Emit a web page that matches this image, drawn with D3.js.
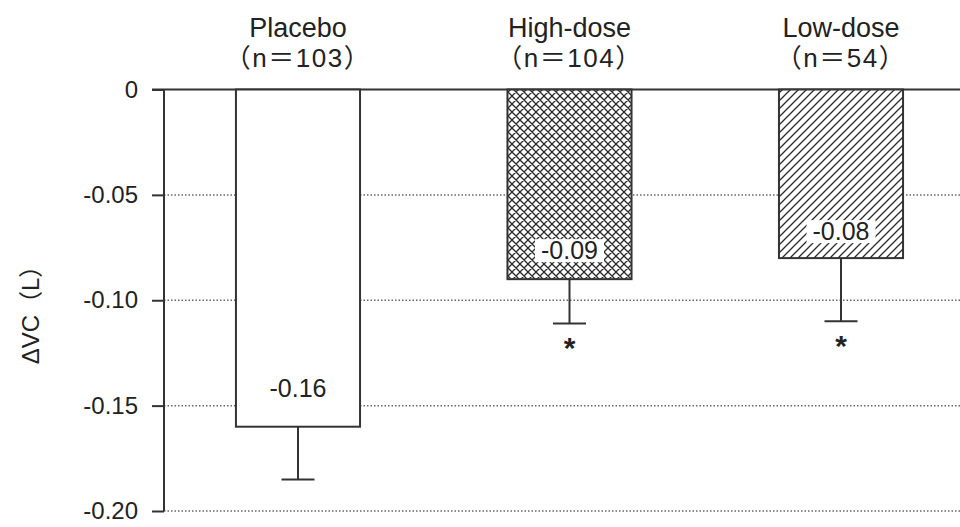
<!DOCTYPE html>
<html>
<head>
<meta charset="utf-8">
<script src="https://cdn.jsdelivr.net/npm/d3@7"></script>
<style>
  html, body { margin: 0; padding: 0; background: #fff; }
  svg { display: block; font-family: "Liberation Sans", Arial, "Noto Sans CJK JP", sans-serif; }
</style>
</head>
<body>
<svg id="chart" width="960" height="527"></svg>
<script>
// Change in vital capacity by treatment group
const groups = ["Placebo", "High-dose", "Low-dose"];
const groupN = ["（n＝103）", "（n＝104）", "（n＝54）"];
const meanChange = [-0.16, -0.09, -0.08];
const stdError = [0.025, 0.021, 0.030];
const significant = [false, true, true];
const yTicks = [0, -0.05, -0.10, -0.15, -0.20];
const yTickLabels = ["0", "-0.05", "-0.10", "-0.15", "-0.20"];
const yTitle = "ΔVC（L）";

const svg = d3.select("#chart");
const ink = "#222";
const lineCol = "#333";

const x = d3.scaleBand()
  .domain(groups)
  .range([164, 975])
  .paddingInner(0.543)
  .paddingOuter(0.265);

const y = d3.scaleLinear()
  .domain([0, -0.2])
  .range([89.5, 511]);

// hatch fills
const defs = svg.append("defs");
const cross = defs.append("pattern")
  .attr("id", "hatch-cross")
  .attr("patternUnits", "userSpaceOnUse")
  .attr("width", 8).attr("height", 8);
cross.append("rect").attr("width", 8).attr("height", 8).attr("fill", "#fff");
cross.append("path")
  .attr("d", "M0,8L8,0M-2,2L2,-2M6,10L10,6M0,0L8,8M-2,6L2,10M6,-2L10,2")
  .attr("stroke", "#2a2a2a").attr("stroke-width", 1.3);

const diag = defs.append("pattern")
  .attr("id", "hatch-diag")
  .attr("patternUnits", "userSpaceOnUse")
  .attr("width", 8).attr("height", 8);
diag.append("rect").attr("width", 8).attr("height", 8).attr("fill", "#fff");
diag.append("path")
  .attr("d", "M0,8L8,0M-2,2L2,-2M6,10L10,6")
  .attr("stroke", "#2a2a2a").attr("stroke-width", 1.3);

const fills = ["#fff", "url(#hatch-cross)", "url(#hatch-diag)"];

// dotted gridlines
const plotRight = 960;
svg.append("g").selectAll("line")
  .data(yTicks.filter(d => d !== 0))
  .join("line")
  .attr("x1", 164).attr("x2", plotRight)
  .attr("y1", d => y(d)).attr("y2", d => y(d))
  .attr("stroke", "#666")
  .attr("stroke-width", 1.5)
  .attr("stroke-dasharray", "1.5,2");

// y axis
const yAxis = d3.axisLeft(y)
  .tickValues(yTicks)
  .tickFormat((d, i) => yTickLabels[i])
  .tickSize(12)
  .tickPadding(14);
const gy = svg.append("g")
  .attr("transform", "translate(164,0)")
  .call(yAxis);
gy.select(".domain").attr("stroke", lineCol).attr("stroke-width", 2).attr("d", `M0,${y(0)}V${y(-0.2)}`);
gy.selectAll(".tick line").attr("stroke", lineCol).attr("stroke-width", 2);
gy.selectAll(".tick text")
  .attr("fill", ink)
  .attr("font-size", 24)
  .attr("font-family", "'Liberation Sans', Arial, sans-serif");

// baseline at zero
svg.append("line")
  .attr("x1", 152).attr("x2", plotRight)
  .attr("y1", y(0)).attr("y2", y(0))
  .attr("stroke", lineCol).attr("stroke-width", 2);

// y title
svg.append("text")
  .attr("transform", `translate(39,309) rotate(-90)`)
  .attr("text-anchor", "middle")
  .attr("font-size", 24)
  .attr("fill", ink)
  .text(yTitle);

// error bars
const errG = svg.append("g");
groups.forEach((g, i) => {
  const cx = x(g) + x.bandwidth() / 2;
  const lo = meanChange[i] - stdError[i];
  errG.append("line")
    .attr("x1", cx).attr("x2", cx)
    .attr("y1", y(meanChange[i])).attr("y2", y(lo))
    .attr("stroke", lineCol).attr("stroke-width", 2);
  errG.append("line")
    .attr("x1", cx - 16.5).attr("x2", cx + 16.5)
    .attr("y1", y(lo)).attr("y2", y(lo))
    .attr("stroke", lineCol).attr("stroke-width", 2);
});

// bars
svg.append("g").selectAll("rect")
  .data(groups)
  .join("rect")
  .attr("x", d => x(d))
  .attr("width", x.bandwidth())
  .attr("y", y(0))
  .attr("height", (d, i) => y(meanChange[i]) - y(0))
  .attr("fill", (d, i) => fills[i])
  .attr("stroke", lineCol)
  .attr("stroke-width", 2);

// value labels on white boxes
const fmt = d3.format(".2f");
const labelLift = [30, 20, 18];
const labG = svg.append("g");
groups.forEach((g, i) => {
  const cx = x(g) + x.bandwidth() / 2;
  const base = y(meanChange[i]) - labelLift[i];
  const t = labG.append("text")
    .attr("x", cx).attr("y", base)
    .attr("text-anchor", "middle")
    .attr("font-size", 25)
    .attr("fill", ink)
    .text(fmt(meanChange[i]).replace("−", "-"));
  const bb = t.node().getBBox();
  labG.insert("rect", () => t.node())
    .attr("x", bb.x - 6).attr("y", base - 20)
    .attr("width", bb.width + 12).attr("height", 23)
    .attr("fill", "#fff");
});

// significance markers
groups.forEach((g, i) => {
  if (!significant[i]) return;
  const cx = x(g) + x.bandwidth() / 2;
  svg.append("text")
    .attr("x", cx).attr("y", y(meanChange[i] - stdError[i]) + 35)
    .attr("text-anchor", "middle")
    .attr("font-size", 30)
    .attr("font-weight", "bold")
    .attr("fill", ink)
    .text("*");
});

// group headers
groups.forEach((g, i) => {
  const cx = x(g) + x.bandwidth() / 2;
  svg.append("text")
    .attr("x", cx).attr("y", 37)
    .attr("text-anchor", "middle")
    .attr("font-size", 27)
    .attr("fill", ink)
    .text(g);
  svg.append("text")
    .attr("x", cx).attr("y", 67)
    .attr("text-anchor", "middle")
    .attr("font-size", 26)
    .attr("letter-spacing", 1.5)
    .attr("fill", ink)
    .text(groupN[i]);
});
</script>
</body>
</html>
